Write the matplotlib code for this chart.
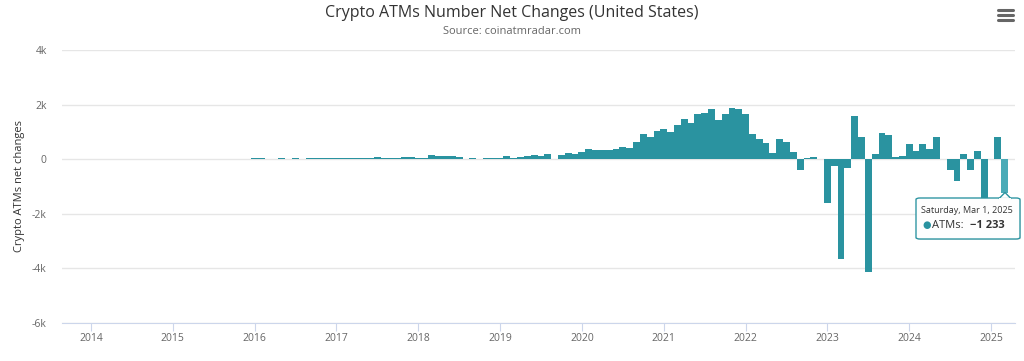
import numpy as np
import matplotlib
matplotlib.use("Agg")
import matplotlib.pyplot as plt
from matplotlib.patches import FancyBboxPatch, Polygon

# --- DATA (monthly net change, Jan 2016 .. Mar 2025) ---
start_year = 2016
net_2016 = [35, 35, 0, 0, 30, 0, 30, 0, 35, 35, 35, 35]
net_2017 = [35, 60, 50, 35, 35, 35, 65, 40, 40, 40, 75, 65]
net_2018 = [50, 50, 140, 130, 110, 100, 90, 0, 40, 0, 55, 55]
net_2019 = [50, 115, 40, 80, 115, 150, 130, 190, 20, 140, 220, 205]
net_2020 = [255, 380, 330, 345, 320, 360, 445, 405, 640, 940, 825, 1030]
net_2021 = [1095, 985, 1240, 1485, 1325, 1655, 1680, 1840, 1435, 1655, 1890, 1825]
net_2022 = [1655, 920, 730, 580, 215, 730, 630, 250, -395, 30, 90, 0]
net_2023 = [-1600, -250, -3640, -335, 1595, 825, -4130, 180, 950, 885, 70, 117]
net_2024 = [545, 310, 545, 360, 825, 10, -395, -785, 180, -395, 300, -1470]
net_2025 = [20, 825, -1233]

year_ticks = list(range(2014, 2026))
y_ticks = [-6000, -4000, -2000, 0, 2000, 4000]
y_labels = ["-6k", "-4k", "-2k", "0", "2k", "4k"]
tooltip_date = "Saturday, Mar 1, 2025"
tooltip_value = "\u22121 233"

values = np.array(net_2016 + net_2017 + net_2018 + net_2019 + net_2020 +
                  net_2021 + net_2022 + net_2023 + net_2024 + net_2025)
x = start_year + np.arange(len(values)) / 12.0

# --- STYLE ---
bar_color = "#2a93a0"
hover_color = "#4aabb7"
grid_color = "#e6e6e6"
text_gray = "#666666"
plt.rcParams["font.family"] = ["Open Sans", "DejaVu Sans"]

W, H = 1024, 361
fig = plt.figure(figsize=(W / 100, H / 100), dpi=100)
ax = fig.add_axes([62 / W, 1 - 323 / H, (1015 - 62) / W, (323 - 50) / H])

colors = [bar_color] * len(values)
colors[-1] = hover_color
ax.bar(x, values, width=1 / 12, color=colors, linewidth=0, zorder=3)

ax.set_xlim(2013.646, 2025.293)
ax.set_ylim(-6000, 4000)
ax.set_yticks(y_ticks)
ax.set_yticklabels(y_labels, color=text_gray, fontsize=7.5)
ax.set_xticks(year_ticks)
ax.set_xticklabels([str(y) for y in year_ticks], color=text_gray, fontsize=7.5)
ax.tick_params(axis="y", length=0, pad=11)
ax.tick_params(axis="x", length=6, color="#ccd6eb", pad=1)
ax.grid(axis="y", color=grid_color, linewidth=1, zorder=0)
for side in ["top", "right", "left"]:
    ax.spines[side].set_visible(False)
ax.spines["bottom"].set_color("#ccd6eb")
ax.spines["bottom"].set_zorder(4)
ax.set_ylabel("Crypto ATMs net changes", color="#333333", fontsize=8, labelpad=5)

# titles
fig.text(0.5, 1 - 13 / H, "Crypto ATMs Number Net Changes (United States)",
         ha="center", va="center", fontsize=11.5, color="#333333")
fig.text(0.5, 1 - 32 / H, "Source: coinatmradar.com",
         ha="center", va="center", fontsize=8, color=text_gray)

# menu icon
for yy in [10, 15, 20]:
    fig.add_artist(plt.Line2D([998 / W, 1013 / W], [1 - yy / H, 1 - yy / H],
                              color="#666666", linewidth=2.2,
                              solid_capstyle="round"))


# tooltip
def px(xp, yp):
    return xp / W, 1 - yp / H


bx0, by0, bx1, by1 = 916, 198, 1020, 239
shadow = FancyBboxPatch(px(bx0 + 1, by1 + 1), (bx1 - bx0) / W, (by1 - by0) / H,
                        boxstyle="round,pad=0,rounding_size=0.004",
                        transform=fig.transFigure, facecolor="#000000",
                        edgecolor="none", alpha=0.08, zorder=9)
fig.add_artist(shadow)
box = FancyBboxPatch(px(bx0, by1), (bx1 - bx0) / W, (by1 - by0) / H,
                     boxstyle="round,pad=0,rounding_size=0.004",
                     transform=fig.transFigure, facecolor="white",
                     edgecolor=bar_color, linewidth=1, alpha=0.97, zorder=10)
fig.add_artist(box)
tri = Polygon([px(999, 198.6), px(1005, 192.5), px(1011, 198.6)], closed=True,
              transform=fig.transFigure, facecolor="white",
              edgecolor=bar_color, linewidth=1, zorder=11)
fig.add_artist(tri)
fig.add_artist(plt.Line2D([999.6 / W, 1010.4 / W], [1 - 198.7 / H, 1 - 198.7 / H],
                          color="white", linewidth=1.4, zorder=12))
fig.text(921 / W, 1 - 210.5 / H, tooltip_date, ha="left", va="center",
         fontsize=6.5, color="#333333", zorder=13)
fig.text(922 / W, 1 - 225 / H, "\u25cf", ha="left", va="center",
         fontsize=7, color=bar_color, zorder=13)
fig.text(932 / W, 1 - 225 / H, "ATMs: ", ha="left", va="center",
         fontsize=8, color="#333333", zorder=13)
fig.text(970 / W, 1 - 225 / H, tooltip_value, ha="left", va="center",
         fontsize=8, color="#333333", fontweight="bold", zorder=13)

fig.savefig("out.png", dpi=100)
